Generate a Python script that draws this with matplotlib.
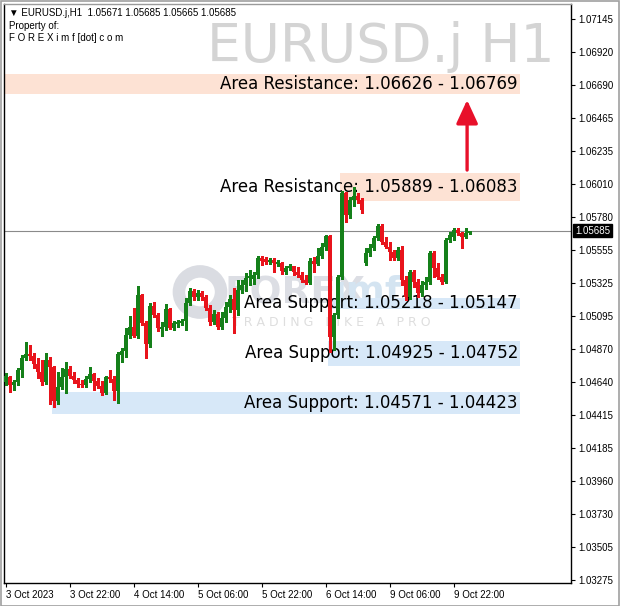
import matplotlib
matplotlib.use("Agg")
import matplotlib.pyplot as plt
from matplotlib.patches import Rectangle
import matplotlib.transforms as mtransforms
import numpy as np

# ---------------- data ----------------
symbol = "EURUSD.j"
timeframe = "H1"

opens = [1.04640, 1.04675, 1.04619, 1.04640, 1.04723, 1.04806, 1.04833, 1.04820, 1.04764, 1.04709,
         1.04640, 1.04792, 1.04744, 1.04509, 1.04606, 1.04675, 1.04730, 1.04682, 1.04654, 1.04626,
         1.04619, 1.04661, 1.04695, 1.04647, 1.04613, 1.04564, 1.04675, 1.04661, 1.04578, 1.04826,
         1.04854, 1.04965, 1.05020, 1.04958, 1.05240, 1.05047, 1.04902, 1.05165, 1.05103, 1.05006,
         1.05020, 1.05144, 1.05013, 1.05040, 1.05047, 1.05061, 1.05185, 1.05268, 1.05227, 1.05254,
         1.05227, 1.05151, 1.05054, 1.05110, 1.05020, 1.05082, 1.05158, 1.05213, 1.05137, 1.05275,
         1.05309, 1.05358, 1.05351, 1.05378, 1.05496, 1.05489, 1.05468, 1.05482, 1.05454, 1.05461,
         1.05399, 1.05427, 1.05441, 1.05399, 1.05378, 1.05344, 1.05323, 1.05475, 1.05454, 1.05510,
         1.05572, 1.05648, 1.04951, 1.05103, 1.05365, 1.05944, 1.05793, 1.05896, 1.05924, 1.05896,
         1.05461, 1.05530, 1.05565, 1.05634, 1.05717, 1.05606, 1.05572, 1.05537, 1.05496, 1.05551,
         1.05344, 1.05227, 1.05399, 1.05330, 1.05254, 1.05309, 1.05330, 1.05530, 1.05427, 1.05365,
         1.05330, 1.05620, 1.05641, 1.05689, 1.05668, 1.05641, 1.05671]
highs = [1.04702, 1.04682, 1.04654, 1.04737, 1.04826, 1.04916, 1.04895, 1.04840, 1.04806, 1.04792,
         1.04840, 1.04813, 1.04751, 1.04709, 1.04737, 1.04778, 1.04751, 1.04709, 1.04668, 1.04654,
         1.04682, 1.04744, 1.04702, 1.04668, 1.04647, 1.04682, 1.04723, 1.04682, 1.04847, 1.04875,
         1.05013, 1.05096, 1.05151, 1.05303, 1.05247, 1.05061, 1.05185, 1.05192, 1.05116, 1.05054,
         1.05178, 1.05151, 1.05061, 1.05068, 1.05075, 1.05220, 1.05289, 1.05282, 1.05275, 1.05268,
         1.05240, 1.05171, 1.05137, 1.05123, 1.05123, 1.05192, 1.05240, 1.05289, 1.05344, 1.05344,
         1.05392, 1.05413, 1.05399, 1.05510, 1.05510, 1.05503, 1.05496, 1.05496, 1.05482, 1.05468,
         1.05441, 1.05454, 1.05441, 1.05434, 1.05399, 1.05378, 1.05496, 1.05503, 1.05565, 1.05599,
         1.05655, 1.05655, 1.05116, 1.05378, 1.05958, 1.05951, 1.05917, 1.05986, 1.05944, 1.05910,
         1.05565, 1.05592, 1.05648, 1.05730, 1.05730, 1.05641, 1.05606, 1.05551, 1.05572, 1.05579,
         1.05372, 1.05413, 1.05413, 1.05351, 1.05337, 1.05365, 1.05544, 1.05544, 1.05461, 1.05385,
         1.05634, 1.05675, 1.05703, 1.05703, 1.05675, 1.05703, 1.05685]
lows = [1.04619, 1.04571, 1.04585, 1.04619, 1.04675, 1.04792, 1.04792, 1.04737, 1.04668, 1.04619,
        1.04626, 1.04488, 1.04468, 1.04488, 1.04592, 1.04564, 1.04668, 1.04633, 1.04606, 1.04606,
        1.04606, 1.04640, 1.04585, 1.04599, 1.04550, 1.04557, 1.04640, 1.04516, 1.04495, 1.04778,
        1.04813, 1.04944, 1.04951, 1.04944, 1.05033, 1.04806, 1.04882, 1.05089, 1.04992, 1.04958,
        1.04999, 1.05006, 1.04999, 1.05020, 1.05033, 1.04999, 1.05171, 1.05206, 1.05206, 1.05206,
        1.05137, 1.05033, 1.05040, 1.05006, 1.05006, 1.05054, 1.05123, 1.04978, 1.05103, 1.05254,
        1.05268, 1.05309, 1.05316, 1.05358, 1.05448, 1.05454, 1.05454, 1.05399, 1.05441, 1.05385,
        1.05385, 1.05413, 1.05378, 1.05365, 1.05330, 1.05316, 1.05316, 1.05399, 1.05448, 1.05496,
        1.05551, 1.04847, 1.04861, 1.05082, 1.05351, 1.05744, 1.05772, 1.05855, 1.05875, 1.05806,
        1.05448, 1.05510, 1.05551, 1.05620, 1.05592, 1.05565, 1.05482, 1.05482, 1.05482, 1.05309,
        1.05206, 1.05213, 1.05296, 1.05227, 1.05234, 1.05282, 1.05316, 1.05365, 1.05351, 1.05316,
        1.05323, 1.05606, 1.05620, 1.05655, 1.05565, 1.05634, 1.05665]
closes = [1.04682, 1.04619, 1.04640, 1.04723, 1.04806, 1.04833, 1.04820, 1.04764, 1.04709, 1.04640,
          1.04792, 1.04744, 1.04509, 1.04606, 1.04675, 1.04730, 1.04682, 1.04654, 1.04626, 1.04619,
          1.04661, 1.04695, 1.04647, 1.04613, 1.04564, 1.04675, 1.04661, 1.04578, 1.04833, 1.04854,
          1.04965, 1.05020, 1.04958, 1.05240, 1.05047, 1.04902, 1.05165, 1.05103, 1.05013, 1.05020,
          1.05144, 1.05013, 1.05047, 1.05054, 1.05061, 1.05185, 1.05268, 1.05227, 1.05254, 1.05227,
          1.05151, 1.05054, 1.05110, 1.05020, 1.05082, 1.05158, 1.05213, 1.05137, 1.05275, 1.05309,
          1.05358, 1.05372, 1.05378, 1.05496, 1.05475, 1.05468, 1.05482, 1.05461, 1.05468, 1.05406,
          1.05427, 1.05441, 1.05399, 1.05378, 1.05344, 1.05323, 1.05475, 1.05454, 1.05510, 1.05572,
          1.05648, 1.04951, 1.05103, 1.05365, 1.05944, 1.05793, 1.05896, 1.05924, 1.05896, 1.05827,
          1.05530, 1.05565, 1.05634, 1.05717, 1.05606, 1.05572, 1.05537, 1.05496, 1.05551, 1.05344,
          1.05227, 1.05399, 1.05330, 1.05254, 1.05309, 1.05330, 1.05530, 1.05427, 1.05365, 1.05330,
          1.05620, 1.05655, 1.05689, 1.05668, 1.05641, 1.05668, 1.05685]

# time-axis labels (bar index, label)
xtick_index = [0, 16, 32, 48, 64, 80, 96, 112]
xtick_labels = ["3 Oct 2023", "3 Oct 22:00", "4 Oct 14:00", "5 Oct 06:00",
                "5 Oct 22:00", "6 Oct 14:00", "9 Oct 06:00", "9 Oct 22:00"]

# price-axis labels (as printed by the terminal)
ytick_labels = ["1.07145", "1.06920", "1.06690", "1.06465", "1.06235", "1.06010",
                "1.05780", "1.05555", "1.05325", "1.05095", "1.04870", "1.04640",
                "1.04415", "1.04185", "1.03960", "1.03730", "1.03505", "1.03275"]

# support / resistance zones
zone_labels = ["Area Resistance: 1.06626 - 1.06769",
               "Area Resistance: 1.05889 - 1.06083",
               "Area Support: 1.05218 - 1.05147",
               "Area Support: 1.04925 - 1.04752",
               "Area Support: 1.04571 - 1.04423"]
zone_low = [1.06626, 1.05889, 1.05147, 1.04752, 1.04423]
zone_high = [1.06769, 1.06083, 1.05218, 1.04925, 1.04571]
zone_start = [0, 84, 81, 81, 12]
zone_kind = ["res", "res", "sup", "sup", "sup"]

# ---------------- figure ----------------
W, H = 620, 606
fig = plt.figure(figsize=(W / 100, H / 100), dpi=100)
fig.patch.set_facecolor("white")

ax_left, ax_right, ax_top, ax_bottom = 3.5, 571, 4, 583
ax = fig.add_axes([ax_left / W, 1 - ax_bottom / H,
                   (ax_right - ax_left) / W, (ax_bottom - ax_top) / H])
ax.set_facecolor("white")

n = len(closes)
x = np.arange(n)
o = np.array(opens); h = np.array(highs); l = np.array(lows); c = np.array(closes)

px_per_bar = 4.0
x0_px = 5.5
ax.set_xlim((ax_left - x0_px) / px_per_bar, (ax_right - x0_px) / px_per_bar)
y_top_val = float(ytick_labels[0]) + 15 * (float(ytick_labels[0]) - float(ytick_labels[-1])) / 561
y_bot_val = float(ytick_labels[-1]) - 3 * (float(ytick_labels[0]) - float(ytick_labels[-1])) / 561
ax.set_ylim(y_bot_val, y_top_val)

GREEN = "#15801a"
RED = "#e8141c"
RES_COL = "#fde2d4"
SUP_COL = "#d7e8f8"

# watermark: logo
ring = plt.Circle((200 / W, 1 - 292 / H), 0.034, transform=fig.transFigure,
                  fill=False, lw=9, ec="#dadce2", zorder=0.5)
ax.add_artist(ring)
ax.text(224 / W, 1 - 293 / H, "FOREX", transform=fig.transFigure, fontsize=27,
        fontweight="bold", color="#dcdee4", va="center", ha="left", zorder=0.6)
ax.text(334 / W, 1 - 293 / H, "imf", transform=fig.transFigure, fontsize=27,
        fontweight="bold", color="#d4e4f1", va="center", ha="left", zorder=0.6)
ax.text(232 / W, 1 - 322 / H, "T R A D I N G   L I K E   A   P R O", transform=fig.transFigure,
        fontsize=9, color="#dedede", va="center", ha="left", zorder=0.6)

# zones
x_right_zone = (520 - x0_px) / px_per_bar
for lab, lo, hi, st, kind in zip(zone_labels, zone_low, zone_high, zone_start, zone_kind):
    col = RES_COL if kind == "res" else SUP_COL
    ax.add_patch(Rectangle((st - 0.5, lo), x_right_zone - (st - 0.5), hi - lo,
                           facecolor=col, edgecolor="none", zorder=1))
    ax.text(x_right_zone - 0.5, (lo + hi) / 2, lab, ha="right", va="center",
            fontsize=12, color="black", zorder=2, family="DejaVu Sans")

# current price line
ax.axhline(c[-1], color="#8a8a8a", lw=0.8, zorder=2.5)

# candles
cols = np.where(c >= o, GREEN, RED)
ax.vlines(x, l, h, colors=cols, lw=1.0, zorder=3, antialiased=False)
body_lo = np.minimum(o, c)
body_h = np.maximum(np.abs(c - o), 0.00004)
ax.bar(x, body_h, bottom=body_lo, width=0.72, color=cols, edgecolor="none",
       zorder=4, antialiased=False)

# arrow
arrow_x = n - 1.6
ax.annotate("", xy=(arrow_x, zone_low[0] - 0.0004), xytext=(arrow_x, zone_high[1] + 0.0002),
            arrowprops=dict(arrowstyle="-|>,head_length=0.65,head_width=0.3",
                            color="#e8102a", lw=2.4, mutation_scale=22,
                            shrinkA=0, shrinkB=0), zorder=5)

# axes styling
for s in ["left", "right", "bottom"]:
    ax.spines[s].set_color("black")
    ax.spines[s].set_linewidth(1.0)
ax.spines["top"].set_color("#9a9a9a")
ax.spines["top"].set_linewidth(1.0)

yt = np.linspace(float(ytick_labels[0]), float(ytick_labels[-1]), len(ytick_labels))
ax.yaxis.tick_right()
ax.set_yticks(yt)
ax.set_yticklabels(ytick_labels, fontsize=7, family="Liberation Sans")
ax.tick_params(axis="y", direction="out", length=3, width=0.8, pad=2, colors="black")

ax.set_xticks(xtick_index)
ax.set_xticklabels(xtick_labels, fontsize=7, family="Liberation Sans")
for t in ax.get_xticklabels():
    t.set_ha("left")
ax.tick_params(axis="x", direction="out", length=3, width=0.8, pad=2)

# current price tag
trans = mtransforms.blended_transform_factory(ax.transAxes, ax.transData)
ax.text(1.0 + 4 / (ax_right - ax_left), c[-1], f"{c[-1]:.5f}", transform=trans,
        ha="left", va="center", fontsize=7, color="white", family="Liberation Sans",
        bbox=dict(boxstyle="square,pad=0.18", fc="black", ec="black"), clip_on=False, zorder=6)

# watermark symbol text
fig.text(555 / W, 1 - 62 / H, f"{symbol} {timeframe}", ha="right", va="baseline",
         fontsize=38.5, color="#d4d4d4", family="DejaVu Sans", zorder=0)

# header text
fig.text(9 / W, 1 - 13 / H,
         f"\u25bc {symbol},{timeframe}  {opens[-1]:.5f} {highs[-1]:.5f} {lows[-1]:.5f} {closes[-1]:.5f}",
         fontsize=7, va="center", ha="left", family=["Liberation Sans", "DejaVu Sans"])
fig.text(9 / W, 1 - 26 / H, "Property of:", fontsize=7, va="center", ha="left",
         family="Liberation Sans")
fig.text(9 / W, 1 - 38 / H, "F O R E X i m f [dot] c o m", fontsize=7, va="center",
         ha="left", family="Liberation Sans")

# window frame
fig.add_artist(Rectangle((0.5 / W, 0.5 / H), (W - 1.5) / W, (H - 1.5) / H,
                         transform=fig.transFigure, fill=False, ec="#a0a0a0", lw=1.2))

fig.savefig("out.png", dpi=100, facecolor="white")
